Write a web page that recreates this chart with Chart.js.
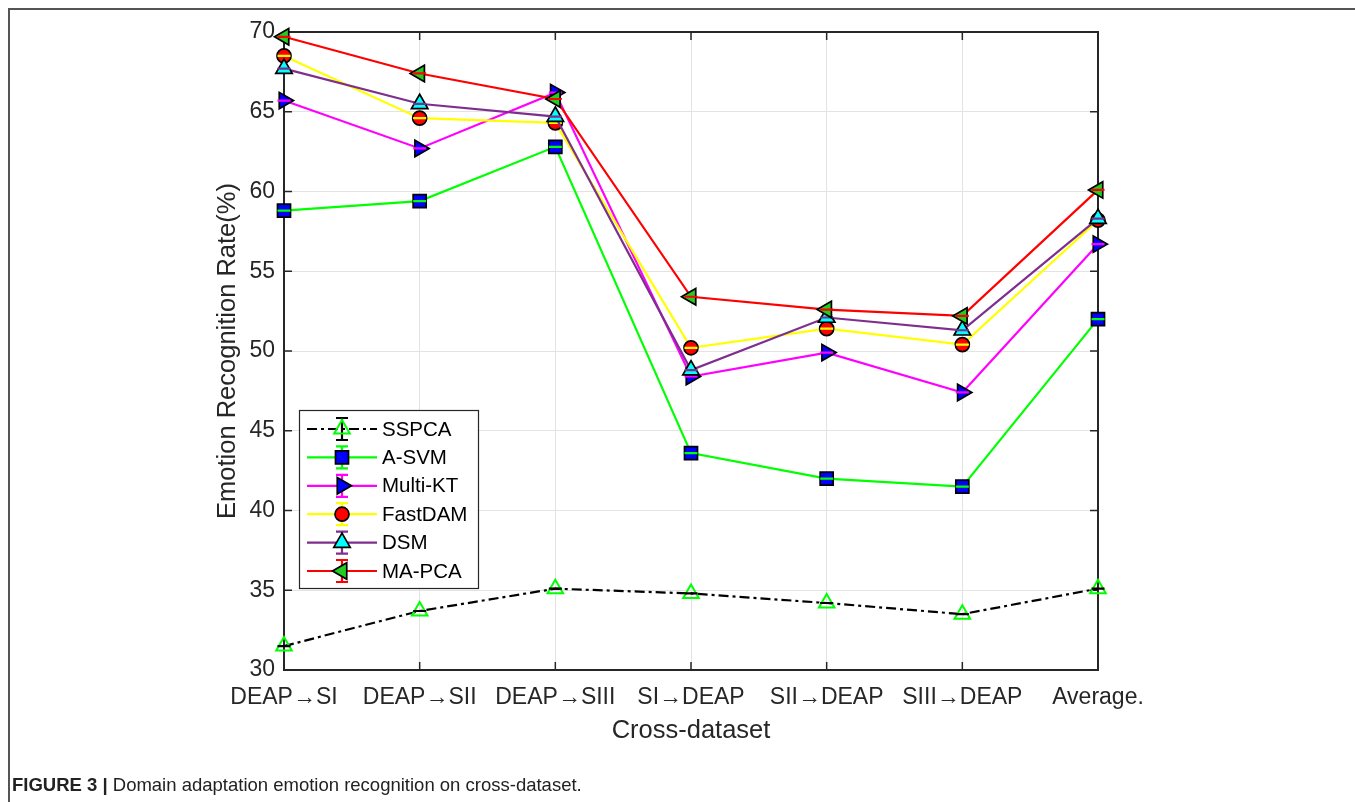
<!DOCTYPE html>
<html><head><meta charset="utf-8">
<script src="https://cdn.jsdelivr.net/npm/chart.js@4.4.1/dist/chart.umd.min.js"></script>
<style>html,body{margin:0;padding:0;background:#fff;overflow:hidden}</style>
</head><body>
<canvas id="c" width="1355" height="802"></canvas>
<script>
// ---- data ----
const categories = ['DEAP\u2192SI', 'DEAP\u2192SII', 'DEAP\u2192SIII', 'SI\u2192DEAP', 'SII\u2192DEAP', 'SIII\u2192DEAP', 'Average.'];
const yMin = 30, yMax = 70, yStep = 5;
const seriesNames = ['SSPCA', 'A-SVM', 'Multi-KT', 'FastDAM', 'DSM', 'MA-PCA'];
const sspca   = [31.5, 33.7, 35.1, 34.8, 34.2, 33.5, 35.1];
const asvm    = [58.8, 59.4, 62.8, 43.6, 42.0, 41.5, 52.0];
const multikt = [65.7, 62.7, 66.2, 48.4, 49.9, 47.4, 56.7];
const fastdam = [68.5, 64.6, 64.3, 50.2, 51.4, 50.4, 58.2];
const dsm     = [67.7, 65.5, 64.7, 48.8, 52.1, 51.3, 58.3];
const mapca   = [69.7, 67.4, 65.8, 53.4, 52.6, 52.2, 60.1];
const xTitle = 'Cross-dataset';
const yTitle = 'Emotion Recognition Rate(%)';
const captionBold = 'FIGURE 3 |';
const captionText = ' Domain adaptation emotion recognition on cross-dataset.';

// ---- styles ----
const styles = [
  {line:'#000000', cap:'#000000', dash:[10,4,3,4], ps:'triangle', rot:0,   r:9,   fill:'rgba(255,255,255,0)', edge:'#00ff00', ew:2},
  {line:'#00ff00', cap:'#00ff00', dash:[],         ps:'rect',     rot:0,   r:9.2, fill:'#0000ff', edge:'#000000', ew:1.7},
  {line:'#ff00ff', cap:'#ff00ff', dash:[],         ps:'triangle', rot:90,  r:9.5, fill:'#0000ff', edge:'#000000', ew:1.7},
  {line:'#ffff00', cap:'#ffff00', dash:[],         ps:'circle',   rot:0,   r:7,   fill:'#ff0000', edge:'#000000', ew:1.7},
  {line:'#7e2f8e', cap:'#7e2f8e', dash:[],         ps:'triangle', rot:0,   r:9.5, fill:'#00ffff', edge:'#000000', ew:1.7},
  {line:'#ff0000', cap:'#ff0000', dash:[],         ps:'triangle', rot:270, r:9.5, fill:'#22cc22', edge:'#000000', ew:1.7}
];
const allData = [sspca, asvm, multikt, fastdam, dsm, mapca];

const datasets = allData.map((d, i) => {
  const s = styles[i];
  return {
    label: seriesNames[i], data: d,
    borderColor: s.line, borderWidth: 2.2, borderDash: s.dash,
    pointStyle: s.ps, pointRotation: s.rot, pointRadius: s.r, pointHoverRadius: s.r,
    pointBackgroundColor: s.fill, pointBorderColor: s.edge, pointBorderWidth: s.ew,
    tension: 0, fill: false, clip: false, order: 6 - i, capColor: s.cap
  };
});

const FONT = "'Liberation Sans', Arial, Helvetica, sans-serif";
const AX = '#262626';

const plugin = {
  id: 'matlabish',
  beforeDatasetsDraw(chart) {
    const {ctx, chartArea: a, scales} = chart;
    ctx.save();
    ctx.strokeStyle = AX; ctx.lineWidth = 2;
    ctx.strokeRect(a.left, a.top, a.right - a.left, a.bottom - a.top);
    ctx.lineWidth = 1.5;
    const tl = 8;
    ctx.beginPath();
    for (let v = yMin; v <= yMax; v += yStep) {
      const y = scales.y.getPixelForValue(v);
      ctx.moveTo(a.left, y); ctx.lineTo(a.left + tl, y);
      ctx.moveTo(a.right, y); ctx.lineTo(a.right - tl, y);
    }
    categories.forEach((c, i) => {
      const x = scales.x.getPixelForValue(i);
      ctx.moveTo(x, a.bottom); ctx.lineTo(x, a.bottom - tl);
      ctx.moveTo(x, a.top); ctx.lineTo(x, a.top + tl);
    });
    ctx.stroke();
    ctx.restore();
  },
  afterDatasetDraw(chart, args) {
    const ctx = chart.ctx;
    const ds = chart.data.datasets[args.index];
    ctx.save();
    ctx.strokeStyle = ds.capColor; ctx.lineWidth = 2.2; ctx.setLineDash([]);
    ctx.beginPath();
    args.meta.data.forEach(p => { ctx.moveTo(p.x - 6.5, p.y); ctx.lineTo(p.x + 6.5, p.y); });
    ctx.stroke();
    ctx.restore();
  },
  afterDraw(chart) {
    const {ctx, chartArea: a} = chart;
    ctx.save();
    // outer frame
    ctx.strokeStyle = '#555'; ctx.lineWidth = 2;
    ctx.beginPath(); ctx.moveTo(9, 810); ctx.lineTo(9, 9); ctx.lineTo(1360, 9); ctx.stroke();
    // titles
    ctx.fillStyle = AX; ctx.font = '25.5px ' + FONT;
    ctx.textAlign = 'center'; ctx.textBaseline = 'middle';
    ctx.fillText(xTitle, (a.left + a.right) / 2, 731);
    ctx.save(); ctx.translate(228, (a.top + a.bottom) / 2); ctx.rotate(-Math.PI / 2);
    ctx.fillText(yTitle, 0, 0); ctx.restore();
    // caption
    ctx.textAlign = 'left'; ctx.textBaseline = 'alphabetic'; ctx.fillStyle = '#222';
    ctx.font = 'bold 18.5px ' + FONT;
    ctx.fillText(captionBold, 12, 791);
    const w = ctx.measureText(captionBold).width;
    ctx.font = '18.5px ' + FONT;
    ctx.fillText(captionText, 12 + w, 791);
    // legend
    const lx = 299, ly = 410, lw = 179, lh = 178;
    ctx.fillStyle = '#fff'; ctx.fillRect(lx, ly, lw, lh);
    ctx.strokeStyle = AX; ctx.lineWidth = 1.2; ctx.strokeRect(lx + 0.5, ly + 0.5, lw, lh);
    seriesNames.forEach((name, i) => {
      const s = styles[i];
      const y = 429 + i * 28.4;
      ctx.strokeStyle = s.line; ctx.lineWidth = 2.2; ctx.setLineDash(s.dash);
      ctx.beginPath(); ctx.moveTo(307, y); ctx.lineTo(377, y); ctx.stroke();
      ctx.setLineDash([]);
      ctx.strokeStyle = s.cap;
      ctx.beginPath();
      ctx.moveTo(342, y - 11); ctx.lineTo(342, y + 11);
      ctx.moveTo(336, y - 11); ctx.lineTo(348, y - 11);
      ctx.moveTo(336, y + 11); ctx.lineTo(348, y + 11);
      ctx.stroke();
      ctx.fillStyle = s.fill; ctx.strokeStyle = s.edge; ctx.lineWidth = s.ew;
      Chart.helpers.drawPoint(ctx, {pointStyle: s.ps, rotation: s.rot, radius: s.r, borderWidth: s.ew}, 342, y);
      ctx.fillStyle = '#000'; ctx.font = '20.5px ' + FONT; ctx.textAlign = 'left'; ctx.textBaseline = 'middle';
      ctx.fillText(name, 382, y + 1);
    });
    ctx.restore();
  }
};

new Chart(document.getElementById('c'), {
  type: 'line',
  data: { labels: categories, datasets },
  options: {
    responsive: false, animation: false, devicePixelRatio: 1,
    layout: { padding: { left: 0, top: 32, right: 257, bottom: 0 } },
    plugins: { legend: { display: false }, tooltip: { enabled: false } },
    scales: {
      x: {
        type: 'category', offset: false,
        afterFit: s => { s.height = 132; },
        grid: { color: '#e3e3e3', lineWidth: 1, drawTicks: false },
        border: { display: false },
        ticks: { color: AX, font: { family: FONT, size: 23 }, padding: 14, maxRotation: 0, autoSkip: false }
      },
      y: {
        min: yMin, max: yMax,
        afterFit: s => { s.width = 284; },
        grid: { color: '#e3e3e3', lineWidth: 1, drawTicks: false },
        border: { display: false },
        ticks: { stepSize: yStep, color: AX, font: { family: FONT, size: 23 }, padding: 9 }
      }
    }
  },
  plugins: [plugin]
});
</script>
</body></html>
